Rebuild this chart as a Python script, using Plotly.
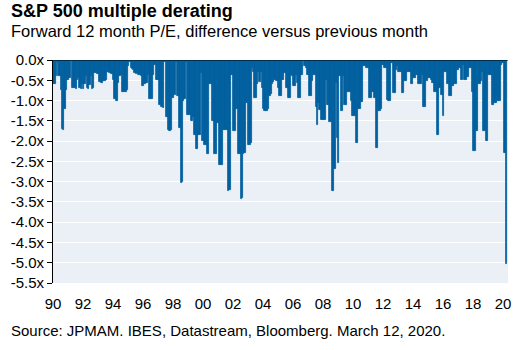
import plotly.graph_objects as go

# Monthly change in S&P 500 forward 12m P/E (negative part), Jan 1990 - Mar 2020
y1990 = [-0.6, -0.6, -0.4, -0.05, -0.4, -0.4, -0.75, -1.7, -1.72, -1.2, -0.75, -0.5]
y1991 = [-0.5, -0.45, -0.02, -0.7, -0.7, -0.7, -0.72, -0.5, -0.45, -0.7, -0.72, -0.6]
y1992 = [-0.72, -0.6, -0.4, -0.7, -0.72, -0.62, -0.4, -0.72, -0.7, -0.33, -0.33, -0.35]
y1993 = [-0.35, -0.55, -0.57, -0.57, -0.53, -0.53, -0.5, -0.3, -0.3, -0.32, -0.35, -0.35]
y1994 = [-0.5, -0.95, -1.02, -1.0, -0.57, -0.4, -0.38, -0.78, -0.78, -0.78, -0.78, -0.75]
y1995 = [-0.16, -0.05, -0.2, -0.22, -0.25, -0.33, -0.35, -0.33, -0.37, -0.37, -0.4, -0.65]
y1996 = [-0.65, -0.6, -0.57, -0.57, -0.37, -0.95, -0.97, -0.95, -0.37, -0.12, -0.5, -0.5]
y1997 = [-0.5, -1.1, -1.15, -1.15, -1.19, -0.05, -1.4, -1.4, -1.72, -1.75, -1.72, -0.94]
y1998 = [-0.94, -0.86, -0.05, -0.9, -0.9, -1.68, -3.03, -3.0, -1.0, -0.95, -0.05, -1.35]
y1999 = [-1.35, -1.35, -1.5, -1.5, -1.4, -1.84, -2.2, -2.2, -1.84, -1.84, -0.33, -2.0]
y2000 = [-2.0, -2.1, -2.1, -2.33, -2.33, -0.6, -0.6, -1.5, -1.5, -2.33, -2.33, -1.55]
y2001 = [-1.55, -2.6, -2.6, -2.6, -1.72, -1.72, -1.72, -1.72, -3.22, -3.2, -0.37, -0.37]
y2002 = [-1.76, -1.76, -1.2, -1.2, -2.33, -2.33, -3.44, -3.4, -2.33, -2.3, -1.06, -1.06]
y2003 = [-2.1, -2.1, -2.05, -0.2, -0.3, -0.94, -0.94, -0.6, -0.3, -0.55, -0.3, -0.7]
y2004 = [-1.2, -1.27, -1.27, -1.27, -1.2, -0.9, -0.85, -0.6, -0.55, -0.5, -0.53, -0.53]
y2005 = [-0.7, -0.9, -0.9, -0.5, -0.5, -0.33, -0.7, -0.7, -0.94, -0.94, -0.37, -0.4]
y2006 = [-0.65, -0.65, -0.37, -0.57, -0.94, -0.94, -0.37, -0.37, -0.02, -0.16, -0.2, -0.37]
y2007 = [-0.37, -0.9, -0.9, -0.53, -0.37, -0.37, -1.15, -1.6, -1.06, -1.23, -1.48, -1.48]
y2008 = [-1.48, -1.48, -0.5, -1.1, -1.1, -1.52, -1.52, -3.24, -3.24, -2.7, -0.57, -1.93]
y2009 = [-2.54, -0.4, -1.27, -1.27, -0.4, -1.1, -1.1, -0.8, -0.78, -0.8, -1.0, -1.39]
y2010 = [-1.39, -1.39, -2.05, -2.05, -1.2, -1.2, -1.03, -1.03, -0.16, -0.16, -0.2, -0.2]
y2011 = [-0.2, -0.94, -0.94, -0.78, -0.78, -0.94, -2.17, -2.17, -1.27, -1.27, -1.2, -0.12]
y2012 = [-0.12, -0.2, -0.2, -0.98, -1.0, -1.0, -0.08, -0.08, -0.82, -0.82, -0.25, -0.16]
y2013 = [-0.29, -0.29, -0.29, -0.82, -0.82, -0.53, -0.53, -0.29, -0.29, -0.29, -0.6, -0.6]
y2014 = [-0.45, -0.45, -0.37, -0.37, -0.6, -0.6, -0.6, -0.37, -1.15, -1.15, -0.53, -0.53]
y2015 = [-0.45, -0.45, -0.49, -0.57, -0.57, -0.78, -0.78, -1.84, -1.84, -0.7, -0.86, -0.86]
y2016 = [-1.39, -0.29, -0.29, -0.6, -0.6, -0.9, -0.9, -0.65, -0.65, -0.6, -0.6, -0.25]
y2017 = [-0.25, -0.2, -0.49, -0.49, -0.12, -0.49, -0.49, -0.41, -0.41, -0.2, -0.2, -0.78]
y2018 = [-2.25, -2.25, -1.76, -1.76, -0.6, -0.6, -0.53, -0.29, -1.76, -1.76, -2.0, -2.0]
y2019 = [-0.37, -0.37, -0.37, -1.1, -1.1, -1.06, -1.06, -1.02, -1.02, -1.02, -0.12, -0.08]
y2020 = [-0.08, -2.3, -5.04]

years = list(range(1990, 2021))
yearly = [y1990, y1991, y1992, y1993, y1994, y1995, y1996, y1997, y1998, y1999,
          y2000, y2001, y2002, y2003, y2004, y2005, y2006, y2007, y2008, y2009,
          y2010, y2011, y2012, y2013, y2014, y2015, y2016, y2017, y2018, y2019, y2020]

x_tick_vals = list(range(1990, 2021, 2))
x_tick_text = ["90", "92", "94", "96", "98", "00", "02", "04", "06", "08",
               "10", "12", "14", "16", "18", "20"]
y_tick_vals = [0, -0.5, -1, -1.5, -2, -2.5, -3, -3.5, -4, -4.5, -5, -5.5]
y_tick_text = ["0.0x", "-0.5x", "-1.0x", "-1.5x", "-2.0x", "-2.5x", "-3.0x",
               "-3.5x", "-4.0x", "-4.5x", "-5.0x", "-5.5x"]

xs, vals = [], []
for yr, months in zip(years, yearly):
    for m, v in enumerate(months):
        xs.append(yr + (m + 0.5) / 12)
        vals.append(v)

BAR = "#005f9e"
FONT = "Liberation Sans, Arial, sans-serif"

fig = go.Figure()
fig.add_trace(go.Bar(
    x=xs, y=vals, width=1 / 12,
    marker=dict(color=BAR, line=dict(color=BAR, width=0.8)),
    hoverinfo="x+y",
))

fig.update_layout(
    width=524, height=350,
    margin=dict(l=53, r=16, t=60, b=67),
    paper_bgcolor="white",
    plot_bgcolor="#eaf0f5",
    showlegend=False,
    bargap=0,
    font=dict(family=FONT, size=15, color="#000000"),
    xaxis=dict(
        range=[1990, 2020.33], tickvals=x_tick_vals, ticktext=x_tick_text,
        showgrid=False, zeroline=False, showline=False, ticks="",
        ticklabelstandoff=10,
        tickfont=dict(size=15, color="#000000"),
    ),
    yaxis=dict(
        range=[-5.5, 0], tickvals=y_tick_vals, ticktext=y_tick_text,
        showgrid=True, gridcolor="white", gridwidth=1, zeroline=False,
        showline=True, linecolor="#000000", linewidth=1,
        ticks="outside", ticklen=5, tickcolor="#000000", tickwidth=1,
        tickfont=dict(size=15, color="#000000"),
    ),
    shapes=[dict(type="line", xref="paper", yref="y", x0=0, x1=1, y0=0, y1=0,
                 line=dict(color="#000000", width=1))],
    annotations=[
        dict(text="<b>S&P 500 multiple derating</b>", xref="paper", yref="paper",
             x=-0.0967, y=1.2186, xanchor="left", yanchor="middle", showarrow=False,
             font=dict(size=18, family=FONT, color="#000000")),
        dict(text="Forward 12 month P/E, difference versus previous month",
             xref="paper", yref="paper", x=-0.0967, y=1.130, xanchor="left",
             yanchor="middle", showarrow=False,
             font=dict(size=16.5, family=FONT, color="#000000")),
        dict(text="Source: JPMAM. IBES, Datastream, Bloomberg. March 12, 2020.",
             xref="paper", yref="paper", x=-0.0967, y=-0.215, xanchor="left",
             yanchor="middle", showarrow=False,
             font=dict(size=15, family=FONT, color="#000000")),
    ],
)

fig.write_html("out.html")
